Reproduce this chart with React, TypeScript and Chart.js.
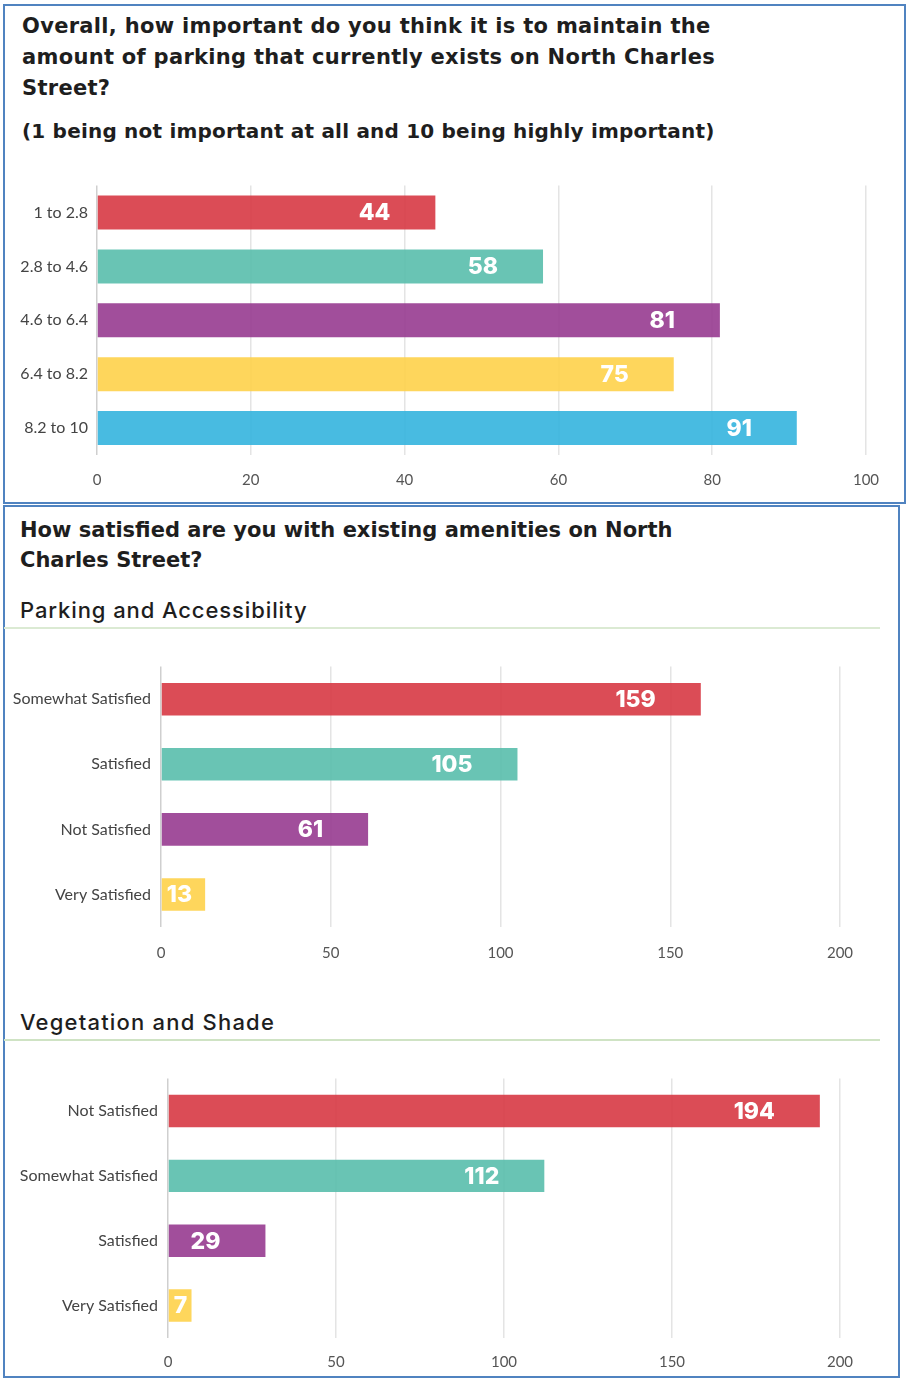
import React, { useEffect, useRef } from "react";
import { Chart, registerables } from "chart.js";

Chart.register(...registerables);

// ---------- data ----------
const importanceLabels = ["1 to 2.8", "2.8 to 4.6", "4.6 to 6.4", "6.4 to 8.2", "8.2 to 10"];
const importanceValues = [44, 58, 81, 75, 91];
const importanceTicks = [0, 20, 40, 60, 80, 100];

const parkingLabels = ["Somewhat Satisfied", "Satisfied", "Not Satisfied", "Very Satisfied"];
const parkingValues = [159, 105, 61, 13];

const vegetationLabels = ["Not Satisfied", "Somewhat Satisfied", "Satisfied", "Very Satisfied"];
const vegetationValues = [194, 112, 29, 7];
const satisfactionTicks = [0, 50, 100, 150, 200];

const barColors = [
  "rgba(215,56,68,0.9)",
  "rgba(89,190,172,0.9)",
  "rgba(151,59,144,0.9)",
  "rgba(254,209,74,0.9)",
  "rgba(52,180,222,0.9)",
];

const valueLabelPlugin = {
  id: "valueLabels",
  afterDatasetsDraw(chart: any) {
    const ctx = chart.ctx;
    const meta = chart.getDatasetMeta(0);
    const data = chart.data.datasets[0].data;
    ctx.save();
    ctx.font = "800 23px Inter";
    ctx.fillStyle = "#ffffff";
    ctx.textBaseline = "middle";
    ctx.textAlign = "left";
    meta.data.forEach((bar: any, i: number) => {
      const txt = String(data[i]);
      const w = ctx.measureText(txt).width;
      let left = bar.x - 45 - w;
      const minLeft = bar.base + 5;
      if (left < minLeft) left = minLeft;
      ctx.fillText(txt, left, bar.y + 1);
    });
    ctx.restore();
  },
};

type BarProps = {
  labels: string[];
  values: number[];
  ticks: number[];
  left: number;
  top: number;
  width: number;
  height: number;
  yAxisWidth: number;
  xAxisHeight: number;
  padTop: number;
  padRight: number;
  barPct: number;
  yPad: number;
  xPad: number;
};

function HBar(p: BarProps) {
  const ref = useRef<HTMLCanvasElement | null>(null);
  useEffect(() => {
    if (!ref.current) return;
    const max = p.ticks[p.ticks.length - 1];
    const step = p.ticks[1] - p.ticks[0];
    const chart = new Chart(ref.current, {
      type: "bar",
      data: {
        labels: p.labels,
        datasets: [
          {
            data: p.values,
            backgroundColor: barColors.slice(0, p.values.length),
            borderWidth: 0,
            barPercentage: p.barPct,
            categoryPercentage: 1,
          },
        ],
      },
      options: {
        indexAxis: "y",
        animation: false,
        responsive: true,
        maintainAspectRatio: false,
        layout: { padding: { top: p.padTop, right: p.padRight, left: 0, bottom: 0 } },
        plugins: { legend: { display: false }, tooltip: { enabled: false } },
        scales: {
          x: {
            min: 0,
            max: max,
            ticks: {
              stepSize: step,
              padding: p.xPad,
              color: "#555555",
              font: { family: "Lato", size: 15 },
            },
            grid: {
              drawTicks: false,
              lineWidth: 1.5,
              color: (c: any) => (c.index === 0 ? "#cfcfcf" : "#e4e4e4"),
            },
            border: { display: false },
            afterFit: (s: any) => {
              s.height = p.xAxisHeight;
            },
          },
          y: {
            ticks: {
              padding: p.yPad,
              color: "#444444",
              font: { family: "Lato", size: 16 },
            },
            grid: { display: false, drawTicks: false },
            border: { display: false },
            afterFit: (s: any) => {
              s.width = p.yAxisWidth;
            },
          },
        },
      } as any,
      plugins: [valueLabelPlugin],
    });
    return () => chart.destroy();
  }, []);
  return (
    <div style={{ position: "absolute", left: p.left, top: p.top, width: p.width, height: p.height }}>
      <canvas ref={ref} style={{ width: "100%", height: "100%" }} />
    </div>
  );
}

const borderColor = "#5083c0";
const heavyFont = "'DejaVu Sans', sans-serif";
const subFont = "Inter, sans-serif";

export default function App() {
  return (
    <div
      style={{
        position: "absolute",
        left: 0,
        top: 0,
        width: 907,
        height: 1378,
        background: "#ffffff",
        overflow: "hidden",
        fontFamily: subFont,
        color: "#1e1e1e",
      }}
    >
      {/* panel borders */}
      <div
        style={{
          position: "absolute",
          left: 3,
          top: 4,
          width: 903,
          height: 500,
          border: `2px solid ${borderColor}`,
          boxSizing: "border-box",
        }}
      />
      <div
        style={{
          position: "absolute",
          left: 3,
          top: 505,
          width: 897,
          height: 873,
          border: `2px solid ${borderColor}`,
          boxSizing: "border-box",
        }}
      />

      {/* panel 1 text */}
      <div
        style={{
          position: "absolute",
          left: 22,
          top: 11,
          fontFamily: heavyFont,
          fontWeight: 700,
          fontSize: 21,
          letterSpacing: "0.3px",
          lineHeight: "31px",
          whiteSpace: "nowrap",
        }}
      >
        Overall, how important do you think it is to maintain the
        <br />
        amount of parking that currently exists on North Charles
        <br />
        Street?
      </div>
      <div
        style={{
          position: "absolute",
          left: 22,
          top: 116,
          fontFamily: heavyFont,
          fontWeight: 700,
          fontSize: 20,
          letterSpacing: "0.2px",
          lineHeight: "31px",
          whiteSpace: "nowrap",
        }}
      >
        (1 being not important at all and 10 being highly important)
      </div>

      <HBar
        labels={importanceLabels}
        values={importanceValues}
        ticks={importanceTicks}
        left={0}
        top={167}
        width={907}
        height={333}
        yAxisWidth={97}
        xAxisHeight={45}
        padTop={12}
        padRight={41}
        barPct={0.63}
        yPad={9}
        xPad={16}
      />

      {/* panel 2 text */}
      <div
        style={{
          position: "absolute",
          left: 20,
          top: 515,
          fontFamily: heavyFont,
          fontWeight: 700,
          fontSize: 21,
          lineHeight: "30px",
          whiteSpace: "nowrap",
        }}
      >
        How satisfied are you with existing amenities on North
        <br />
        Charles Street?
      </div>
      <div
        style={{
          position: "absolute",
          left: 20,
          top: 595,
          fontWeight: 500,
          fontSize: 22,
          letterSpacing: "0.9px",
          lineHeight: "30px",
          whiteSpace: "nowrap",
        }}
      >
        Parking and Accessibility
      </div>
      <div style={{ position: "absolute", left: 4, top: 627, width: 876, height: 1.5, background: "#dbead3" }} />

      <HBar
        labels={parkingLabels}
        values={parkingValues}
        ticks={satisfactionTicks}
        left={0}
        top={647}
        width={907}
        height={323}
        yAxisWidth={161}
        xAxisHeight={43}
        padTop={12}
        padRight={67}
        barPct={0.5}
        yPad={10}
        xPad={17}
      />

      <div
        style={{
          position: "absolute",
          left: 20,
          top: 1007,
          fontWeight: 500,
          fontSize: 22,
          letterSpacing: "1.2px",
          lineHeight: "30px",
          whiteSpace: "nowrap",
        }}
      >
        Vegetation and Shade
      </div>
      <div style={{ position: "absolute", left: 4, top: 1039, width: 876, height: 1.5, background: "#cfe3c4" }} />

      <HBar
        labels={vegetationLabels}
        values={vegetationValues}
        ticks={satisfactionTicks}
        left={0}
        top={1059}
        width={907}
        height={319}
        yAxisWidth={168}
        xAxisHeight={40}
        padTop={16}
        padRight={67}
        barPct={0.5}
        yPad={10}
        xPad={15}
      />
    </div>
  );
}
